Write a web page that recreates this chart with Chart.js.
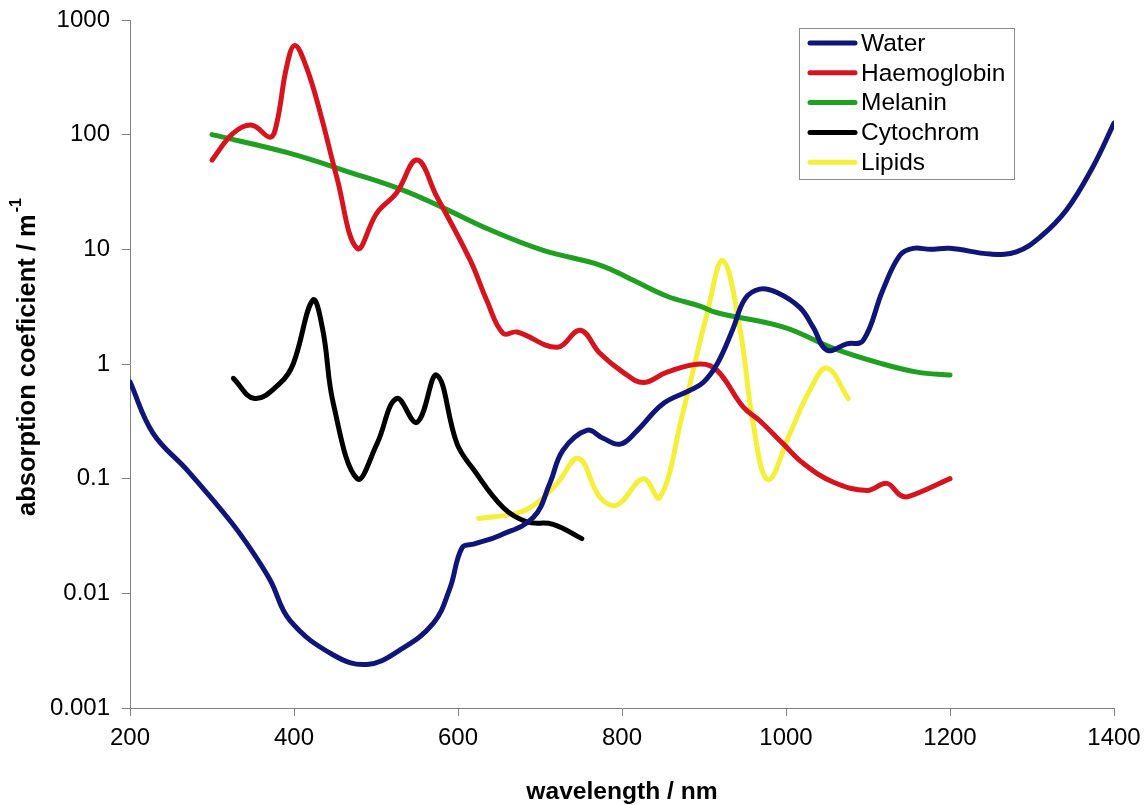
<!DOCTYPE html>
<html>
<head>
<meta charset="utf-8">
<script src="https://cdn.jsdelivr.net/npm/chart.js@4/dist/chart.umd.min.js"></script>
<style>
  html, body { margin: 0; padding: 0; background: #ffffff; }
  #wrap { width: 1148px; height: 805px; }
</style>
</head>
<body>
<div id="wrap"><canvas id="c" width="1148" height="805"></canvas></div>
<script>
// ---- data (wavelength in nm, absorption coefficient in 1/m) ----
const xTicks = [200, 400, 600, 800, 1000, 1200, 1400];
const yTicks = [0.001, 0.01, 0.1, 1, 10, 100, 1000];

const seriesNames = ['Water', 'Haemoglobin', 'Melanin', 'Cytochrom', 'Lipids'];
const seriesColors = ['#10157a', '#d7141e', '#20a020', '#000000', '#f5ef3a'];

const waterNm  = [200, 228, 270, 322, 346, 371, 395, 448, 489, 529, 570, 590, 605, 620, 651, 692, 712, 728, 757, 777, 798, 818, 850, 883, 899, 916, 935, 950, 968, 989, 1017, 1033, 1050, 1074, 1094, 1118, 1139, 1155, 1176, 1200, 1249, 1281, 1310, 1342, 1374, 1400];
const waterVal = [0.7, 0.25, 0.118, 0.043, 0.025, 0.013, 0.0058, 0.0029, 0.0024, 0.0032, 0.0055, 0.011, 0.025, 0.027, 0.032, 0.046, 0.091, 0.177, 0.264, 0.225, 0.2, 0.26, 0.45, 0.59, 0.69, 1.0, 2.0, 3.7, 4.5, 4.2, 3.1, 2.1, 1.32, 1.5, 1.6, 4.4, 8.9, 10.2, 10.0, 10.2, 9.1, 9.5, 12.8, 22, 52, 126];

const hbNm  = [300, 326, 349, 371, 379, 391, 401, 415, 432, 452, 477, 501, 525, 550, 574, 615, 635, 655, 672, 721, 749, 773, 801, 826, 855, 895, 916, 948, 968, 997, 1021, 1058, 1099, 1123, 1139, 1150, 1200];
const hbVal = [60, 103, 121, 95, 126, 390, 600, 390, 155, 43, 10.2, 20.7, 31, 60, 29, 8, 3.6, 1.85, 1.9, 1.4, 1.97, 1.24, 0.85, 0.69, 0.85, 1.0, 0.88, 0.42, 0.32, 0.2, 0.136, 0.093, 0.079, 0.091, 0.072, 0.07, 0.1];

const melNm  = [300, 391, 472, 532, 582, 639, 704, 773, 813, 855, 895, 916, 997, 1058, 1118, 1160, 1200];
const melVal = [100, 70, 46, 33, 23, 14.8, 9.8, 7.3, 5.4, 3.9, 3.2, 2.8, 2.1, 1.37, 1.0, 0.85, 0.8];

const cytNm  = [326, 352, 383, 399, 423, 435, 448, 477, 501, 525, 550, 574, 599, 619, 655, 684, 716, 751];
const cytVal = [0.75, 0.5, 0.68, 1.0, 3.6, 2.0, 0.45, 0.1, 0.2, 0.5, 0.31, 0.8, 0.2, 0.12, 0.056, 0.042, 0.04, 0.03];

const lipNm  = [625, 672, 696, 721, 747, 773, 794, 826, 846, 874, 904, 923, 944, 960, 978, 1005, 1029, 1050, 1076];
const lipVal = [0.045, 0.05, 0.061, 0.091, 0.15, 0.069, 0.059, 0.1, 0.068, 0.37, 2.8, 8.0, 2.0, 0.3, 0.098, 0.25, 0.59, 0.92, 0.5];

const xTitle = 'wavelength / nm';
const yTitleMain = 'absorption coeficient / m';
const yTitleSup = '-1';

// ---- build datasets ----
function pairs(xs, ys) { return xs.map((x, i) => ({ x: x, y: ys[i] })); }
const allX = [waterNm, hbNm, melNm, cytNm, lipNm];
const allY = [waterVal, hbVal, melVal, cytVal, lipVal];
const datasets = seriesNames.map((name, i) => ({
  label: name,
  data: pairs(allX[i], allY[i]),
  borderColor: seriesColors[i],
  backgroundColor: seriesColors[i],
  borderWidth: 5,
  pointRadius: 0,
  pointHoverRadius: 0,
  tension: 0.4,
  borderCapStyle: 'round',
  borderJoinStyle: 'round',
  fill: false
}));

const FONT = "'Liberation Sans', Arial, Helvetica, sans-serif";

// custom legend + axis titles
const decorations = {
  id: 'decorations',
  afterDraw(chart) {
    const ctx = chart.ctx;
    const area = chart.chartArea;
    ctx.save();
    // legend box
    const bx = 799, by = 28, bw = 215, bh = 151;
    ctx.fillStyle = '#ffffff';
    ctx.fillRect(bx, by, bw, bh);
    ctx.strokeStyle = '#8c8c8c';
    ctx.lineWidth = 1;
    ctx.strokeRect(bx + 0.5, by + 0.5, bw, bh);
    ctx.font = '24.5px ' + FONT;
    ctx.textBaseline = 'middle';
    ctx.textAlign = 'left';
    chart.data.datasets.forEach((ds, i) => {
      const yy = by + 15 + i * 29.8;
      ctx.strokeStyle = ds.borderColor;
      ctx.lineWidth = 5;
      ctx.lineCap = 'round';
      ctx.beginPath();
      ctx.moveTo(bx + 11, yy);
      ctx.lineTo(bx + 56, yy);
      ctx.stroke();
      ctx.fillStyle = '#000000';
      ctx.fillText(ds.label, bx + 62, yy + 1);
    });
    // x title
    ctx.font = 'bold 24.6px ' + FONT;
    ctx.fillStyle = '#000000';
    ctx.textAlign = 'center';
    ctx.textBaseline = 'middle';
    ctx.fillText(xTitle, (area.left + area.right) / 2, 792);
    // y title (rotated) with superscript
    ctx.translate(28, (area.top + area.bottom) / 2 - 7);
    ctx.rotate(-Math.PI / 2);
    ctx.font = 'bold 25.5px ' + FONT;
    const wMain = ctx.measureText(yTitleMain).width;
    ctx.font = 'bold 16px ' + FONT;
    const wSup = ctx.measureText(yTitleSup).width;
    const total = wMain + wSup + 2;
    ctx.textAlign = 'left';
    ctx.font = 'bold 25.5px ' + FONT;
    ctx.fillText(yTitleMain, -total / 2, 0);
    ctx.font = 'bold 16px ' + FONT;
    ctx.fillText(yTitleSup, -total / 2 + wMain + 2, -11);
    ctx.restore();
  }
};

new Chart(document.getElementById('c'), {
  type: 'line',
  data: { datasets: datasets },
  options: {
    responsive: false,
    animation: false,
    devicePixelRatio: 1,
    layout: { padding: { left: 0, top: 20, right: 34, bottom: 0 } },
    plugins: {
      legend: { display: false },
      tooltip: { enabled: false }
    },
    scales: {
      x: {
        type: 'linear',
        min: 200,
        max: 1400,
        afterBuildTicks(scale) { scale.ticks = xTicks.map(v => ({ value: v })); },
        afterFit(scale) { scale.height = 97; scale.paddingLeft = 0; scale.paddingRight = 0; },
        ticks: {
          color: '#000000',
          font: { family: FONT, size: 24 },
          padding: 8,
          maxRotation: 0,
          callback: v => String(v)
        },
        grid: { drawOnChartArea: false, drawTicks: true, tickLength: 8, color: '#808080' },
        border: { color: '#808080', width: 1 }
      },
      y: {
        type: 'logarithmic',
        min: 0.001,
        max: 1000,
        afterBuildTicks(scale) { scale.ticks = yTicks.map(v => ({ value: v })); },
        afterFit(scale) { scale.width = 130; scale.paddingTop = 0; scale.paddingBottom = 0; },
        ticks: {
          color: '#000000',
          font: { family: FONT, size: 24 },
          padding: 12,
          callback: v => String(v)
        },
        grid: { drawOnChartArea: false, drawTicks: true, tickLength: 8, color: '#808080' },
        border: { color: '#808080', width: 1 }
      }
    }
  },
  plugins: [decorations]
});
</script>
</body>
</html>
